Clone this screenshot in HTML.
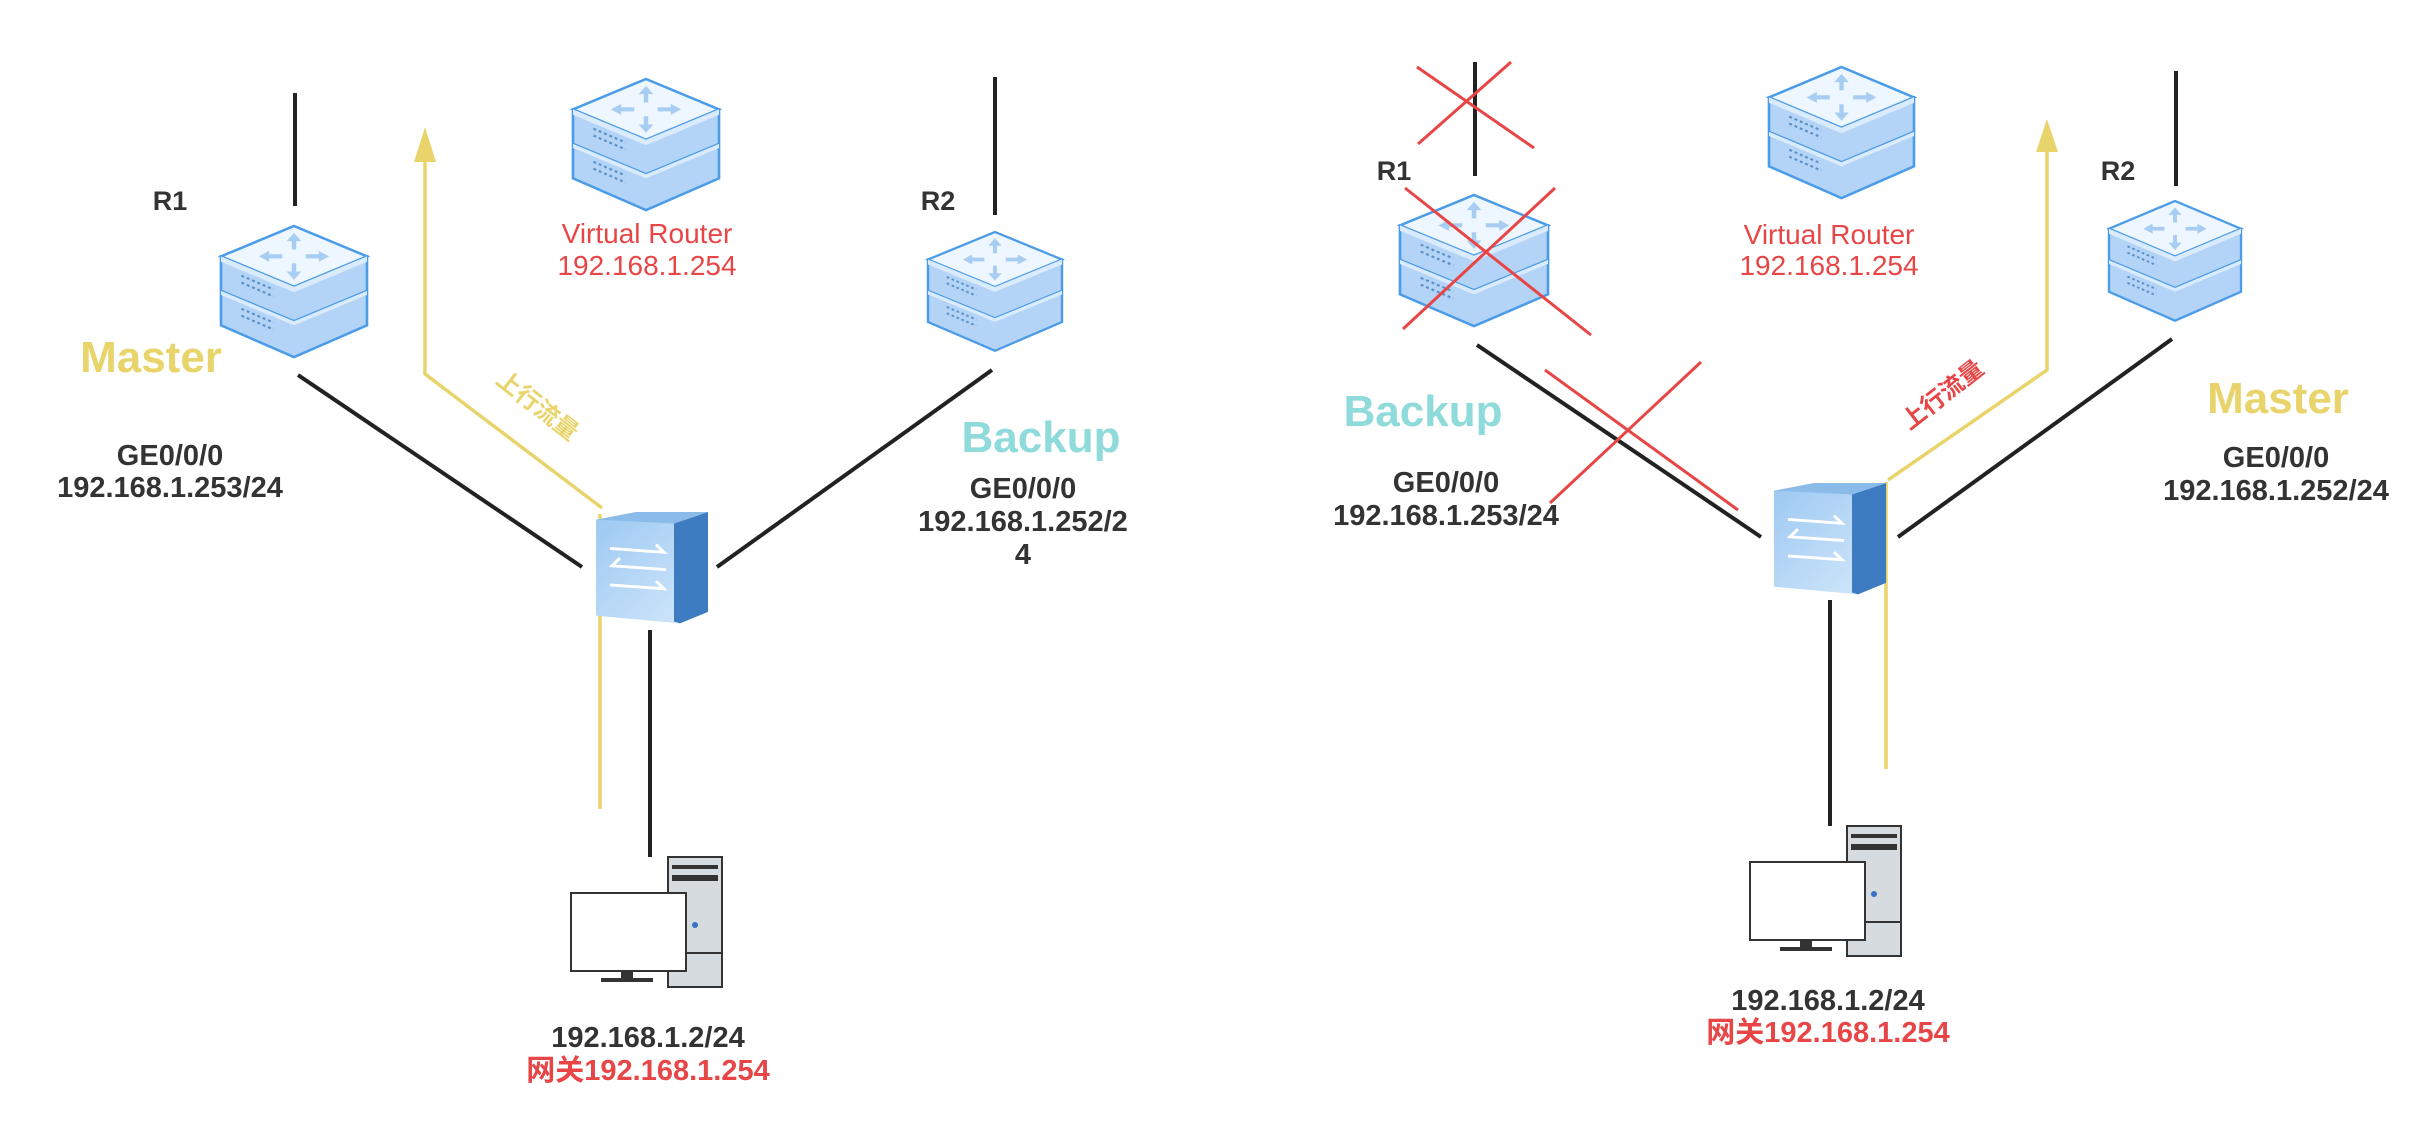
<!DOCTYPE html>
<html><head><meta charset="utf-8"><style>
html,body{margin:0;padding:0;background:#fff;}
svg{display:block;}
text{font-family:"Liberation Sans","Noto Sans CJK SC",sans-serif;}
</style></head><body>
<svg width="2436" height="1137" viewBox="0 0 2436 1137" xmlns="http://www.w3.org/2000/svg">
<defs>
<g id="router">
  <polygon points="0,22 100,22 100,72 50,95 0,72" fill="#b3d4f6" stroke="#4a9be8" stroke-width="1.8"/>
  <polyline points="0,47 50,69 100,47" fill="none" stroke="#4a9be8" stroke-width="1.8"/>
  <polygon points="0,47 50,69 100,47 100,50 50,72 0,50" fill="#d9ebfc"/>
  <polygon points="50,0 100,22 50,44 0,22" fill="#eef6ff" stroke="#4a9be8" stroke-width="1.8"/>
  <polygon points="0,22 50,44 100,22 100,26 50,48 0,26" fill="#d9ebfc"/>
  <g stroke="#a8cdf3" stroke-width="3" fill="#a8cdf3">
    <line x1="50" y1="8" x2="50" y2="17"/><polygon points="45,11 55,11 50,5" stroke="none"/>
    <line x1="50" y1="27" x2="50" y2="36"/><polygon points="45,33 55,33 50,39" stroke="none"/>
    <line x1="30" y1="22" x2="42" y2="22"/><polygon points="33,18 33,26 26,22" stroke="none"/>
    <line x1="58" y1="22" x2="70" y2="22"/><polygon points="67,18 67,26 74,22" stroke="none"/>
  </g>
  <g stroke="#5a8fc8" stroke-width="1.5" stroke-dasharray="2,2">
    <line x1="14" y1="36" x2="36" y2="46"/><line x1="14" y1="41" x2="36" y2="51"/>
    <line x1="14" y1="60" x2="36" y2="70"/><line x1="14" y1="65" x2="36" y2="75"/>
  </g>
</g>
<linearGradient id="sw" x1="0" y1="0" x2="1" y2="1">
  <stop offset="0" stop-color="#9cc8f2"/><stop offset="1" stop-color="#d5e9fb"/>
</linearGradient>
<g id="switch">
  <polygon points="0,8 78,0 112,18 112,104 84,116 0,108" fill="url(#sw)"/>
  <polygon points="78,12 112,0 112,104 84,116 78,114" fill="#3d7cc0"/>
  <polygon points="0,8 78,12 112,0 40,0" fill="#8bbbe8"/>
  <g stroke="#ffffff" stroke-width="3" fill="none">
    <polyline points="14,38 68,42 60,34"/>
    <polyline points="70,60 16,56 24,48"/>
    <polyline points="14,76 68,80 60,72"/>
  </g>
</g>
<g id="pc">
  <rect x="0" y="0" width="155" height="130" fill="#fff"/>
  <rect x="97" y="0" width="54" height="130" fill="#d6dbe0" stroke="#333" stroke-width="2"/>
  <rect x="101" y="8" width="46" height="4" fill="#333"/>
  <rect x="101" y="18" width="46" height="6" fill="#333"/>
  <line x1="97" y1="96" x2="151" y2="96" stroke="#333" stroke-width="2"/>
  <circle cx="124" cy="68" r="3" fill="#3a6fc8"/>
  <rect x="0" y="36" width="115" height="78" fill="#fff" stroke="#333" stroke-width="2"/>
  <rect x="50" y="114" width="12" height="8" fill="#333"/>
  <rect x="30" y="121" width="52" height="4" fill="#333"/>
</g>
</defs>

<!-- ===== LEFT ===== -->
<g stroke="#222" stroke-width="4" fill="none">
  <line x1="295" y1="93" x2="295" y2="206"/>
  <line x1="995" y1="77" x2="995" y2="215"/>
  <line x1="298" y1="375" x2="582" y2="567"/>
  <line x1="717" y1="567" x2="992" y2="370"/>
  <line x1="650" y1="630" x2="650" y2="857"/>
</g>
<g stroke="#e8d46a" stroke-width="3.5" fill="none">
  <polyline points="600,809 600,514"/>
  <polyline points="602,508 425,374 425,160"/>
</g>
<polygon points="414,162 436,162 425,127" fill="#e8d46a"/>
<use href="#router" transform="translate(221,226) scale(1.46,1.38)"/>
<use href="#router" transform="translate(573,79) scale(1.46,1.38)"/>
<use href="#router" transform="translate(928,232) scale(1.34,1.25)"/>
<use href="#switch" transform="translate(596,512) scale(1.0,0.96)"/>
<use href="#pc" transform="translate(571,857)"/>

<g font-weight="bold" fill="#333" font-size="27" text-anchor="middle">
  <text x="170" y="210">R1</text>
  <text x="938" y="210">R2</text>
  <text x="170" y="465" font-size="29">GE0/0/0</text>
  <text x="170" y="497" font-size="29">192.168.1.253/24</text>
  <text x="1023" y="498" font-size="29">GE0/0/0</text>
  <text x="1023" y="531" font-size="29">192.168.1.252/2</text>
  <text x="1023" y="564" font-size="29">4</text>
  <text x="648" y="1047" font-size="29">192.168.1.2/24</text>
  <text x="648" y="1080" font-size="29" fill="#e84646">网关192.168.1.254</text>
</g>
<text x="151" y="372" font-size="44" font-weight="bold" fill="#e8d46a" text-anchor="middle">Master</text>
<text x="1041" y="452" font-size="44" font-weight="bold" fill="#8fdada" text-anchor="middle">Backup</text>
<text x="647" y="243" font-size="28" fill="#e84646" text-anchor="middle">Virtual Router</text>
<text x="647" y="275" font-size="28" fill="#e84646" text-anchor="middle">192.168.1.254</text>
<text x="538" y="414" font-size="24" font-weight="bold" fill="#e8d46a" text-anchor="middle" transform="rotate(38 538 405)">上行流量</text>

<!-- ===== RIGHT ===== -->
<g stroke="#222" stroke-width="4" fill="none">
  <line x1="1475" y1="62" x2="1475" y2="176"/>
  <line x1="2176" y1="71" x2="2176" y2="186"/>
  <line x1="1477" y1="345" x2="1761" y2="537"/>
  <line x1="1898" y1="537" x2="2172" y2="339"/>
  <line x1="1830" y1="600" x2="1830" y2="826"/>
</g>
<g stroke="#e8d46a" stroke-width="3.5" fill="none">
  <polyline points="1886,769 1886,482"/>
  <polyline points="1888,480 2047,370 2047,150"/>
</g>
<polygon points="2036,152 2058,152 2047,119" fill="#e8d46a"/>
<use href="#router" transform="translate(1400,195) scale(1.48,1.38)"/>
<use href="#router" transform="translate(1769,67) scale(1.45,1.38)"/>
<use href="#router" transform="translate(2109,201) scale(1.32,1.26)"/>
<use href="#switch" transform="translate(1774,483) scale(1.0,0.96)"/>
<use href="#pc" transform="translate(1750,826)"/>
<g stroke="#e84646" stroke-width="3" fill="none">
  <line x1="1417" y1="67" x2="1534" y2="148"/>
  <line x1="1511" y1="62" x2="1418" y2="144"/>
  <line x1="1405" y1="188" x2="1591" y2="335"/>
  <line x1="1555" y1="188" x2="1403" y2="329"/>
  <line x1="1545" y1="370" x2="1738" y2="510"/>
  <line x1="1701" y1="362" x2="1550" y2="503"/>
</g>
<g font-weight="bold" fill="#333" font-size="27" text-anchor="middle">
  <text x="1394" y="180">R1</text>
  <text x="2118" y="180">R2</text>
  <text x="1446" y="492" font-size="29">GE0/0/0</text>
  <text x="1446" y="525" font-size="29">192.168.1.253/24</text>
  <text x="2276" y="467" font-size="29">GE0/0/0</text>
  <text x="2276" y="500" font-size="29">192.168.1.252/24</text>
  <text x="1828" y="1010" font-size="29">192.168.1.2/24</text>
  <text x="1828" y="1042" font-size="29" fill="#e84646">网关192.168.1.254</text>
</g>
<text x="1423" y="426" font-size="44" font-weight="bold" fill="#8fdada" text-anchor="middle">Backup</text>
<text x="2278" y="413" font-size="44" font-weight="bold" fill="#e8d46a" text-anchor="middle">Master</text>
<text x="1829" y="244" font-size="28" fill="#e84646" text-anchor="middle">Virtual Router</text>
<text x="1829" y="275" font-size="28" fill="#e84646" text-anchor="middle">192.168.1.254</text>
<text x="1942" y="403" font-size="24" font-weight="bold" fill="#e84646" text-anchor="middle" transform="rotate(-38 1942 394)">上行流量</text>
</svg>
</body></html>
